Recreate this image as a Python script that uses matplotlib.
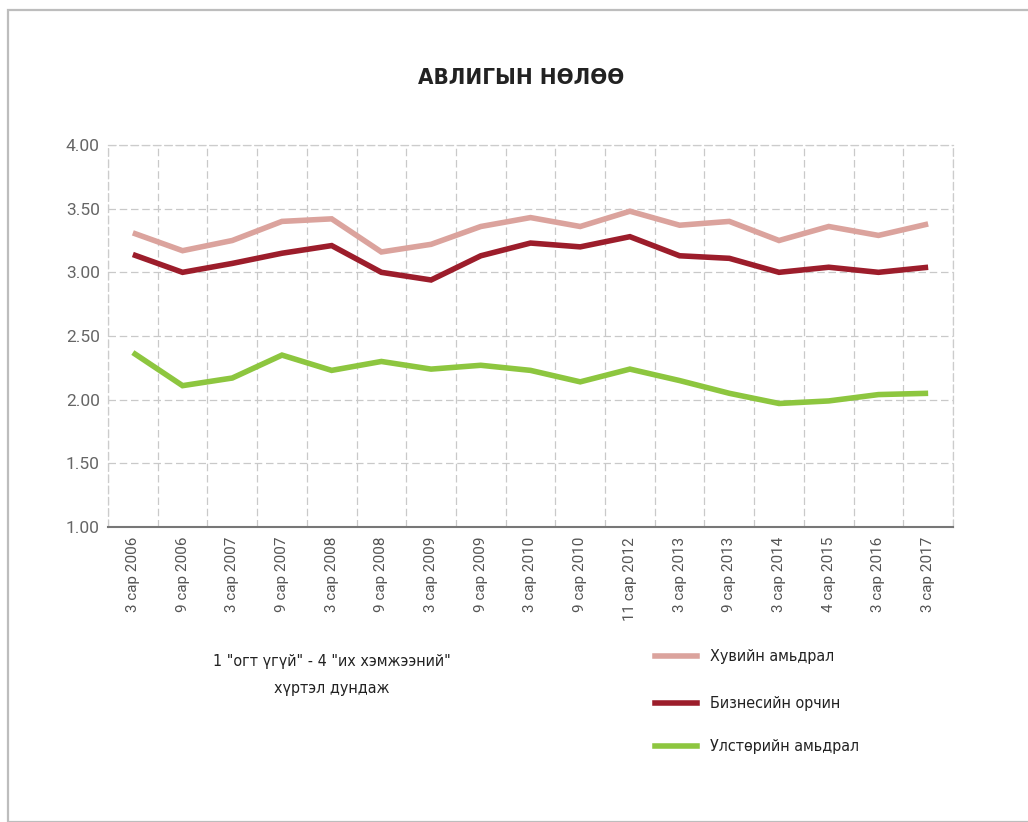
import matplotlib
matplotlib.use("Agg")
import matplotlib.pyplot as plt
from matplotlib.patches import Rectangle
from matplotlib.lines import Line2D
import numpy as np

categories = ["3 сар 2006", "9 сар 2006", "3 сар 2007", "9 сар 2007", "3 сар 2008",
              "9 сар 2008", "3 сар 2009", "9 сар 2009", "3 сар 2010", "9 сар 2010",
              "11 сар 2012", "3 сар 2013", "9 сар 2013", "3 сар 2014", "4 сар 2015",
              "3 сар 2016", "3 сар 2017"]
private_life = [3.31, 3.17, 3.25, 3.40, 3.42, 3.16, 3.22, 3.36, 3.43, 3.36,
                3.48, 3.37, 3.40, 3.25, 3.36, 3.29, 3.38]
business_env = [3.14, 3.00, 3.07, 3.15, 3.21, 3.00, 2.94, 3.13, 3.23, 3.20,
                3.28, 3.13, 3.11, 3.00, 3.04, 3.00, 3.04]
political_life = [2.37, 2.11, 2.17, 2.35, 2.23, 2.30, 2.24, 2.27, 2.23, 2.14,
                  2.24, 2.15, 2.05, 1.97, 1.99, 2.04, 2.05]
series_names = ["Хувийн амьдрал", "Бизнесийн орчин", "Улстөрийн амьдрал"]
colors = ["#dba39d", "#9c1d2b", "#8dc63f"]
yticks = [1.00, 1.50, 2.00, 2.50, 3.00, 3.50, 4.00]
title = "АВЛИГЫН НӨЛӨӨ"
note = "1 \"огт үгүй\" - 4 \"их хэмжээний\"\nхүртэл дундаж"

FONT = ["Roboto", "DejaVu Sans"]
plt.rcParams['font.family'] = FONT
COND = dict(family=["DejaVu Sans"], stretch="condensed")

fig = plt.figure(figsize=(10.28, 8.22), dpi=100)
fig.patch.set_facecolor("white")

# outer frame
fig.add_artist(Rectangle((8/1028, 0.0), 1.5, 1 - 10/822, transform=fig.transFigure,
                         fill=False, edgecolor="#bdbdbd", lw=1.6))

ax = fig.add_axes([108/1028, 1 - 527/822, (953-108)/1028, (527-145)/822])
x = np.arange(len(categories))
for vals, c in zip([private_life, business_env, political_life], colors):
    ax.plot(x, vals, color=c, lw=4, solid_joinstyle="miter", solid_capstyle="butt", zorder=3)

ax.set_xlim(-0.5, len(categories) - 0.5)
ax.set_ylim(1, 4)
ax.set_yticks(yticks)
ax.set_yticklabels([f"{v:.2f}" for v in yticks])
ax.set_xticks(x)
ax.set_xticklabels(categories, rotation=90, va="top", ha="center")
ax.set_xticks(np.arange(-0.5, len(categories) + 0.5, 1), minor=True)
ax.tick_params(axis="x", which="both", length=0, labelsize=11, colors="#555555", pad=7)
ax.tick_params(axis="y", length=0, labelsize=12.5, colors="#666666", pad=6)
ax.grid(False)
ax.grid(axis="y", which="major", color="#c9c9c9", ls=(0, (6, 3)), lw=0.9)
ax.grid(axis="x", which="minor", color="#c9c9c9", ls=(0, (6, 3)), lw=0.9)
for s in ["top", "right", "left"]:
    ax.spines[s].set_color("#cccccc")
    ax.spines[s].set_linestyle((0, (6, 3)))
    ax.spines[s].set_linewidth(0.9)
ax.spines["bottom"].set_color("#777777")
ax.spines["bottom"].set_linewidth(1.5)

fig.text(521/1028, 1 - 78/822, title, ha="center", va="center", fontsize=16,
         fontweight="bold", color="#222222", **COND)

fig.text(332/1028, 1 - 675/822, note, ha="center", va="center", fontsize=11.5,
         color="#222222", linespacing=2.0, **COND)

leg_y = [656, 703, 746]
for name, c, yy in zip(series_names, colors, leg_y):
    yf = 1 - yy/822
    fig.add_artist(Line2D([655/1028, 697/1028], [yf, yf], color=c, lw=4,
                          transform=fig.transFigure))
    fig.text(710/1028, yf, name, ha="left", va="center", fontsize=11.5,
             color="#222222", **COND)

fig.savefig("out.png", dpi=100, facecolor="white")
